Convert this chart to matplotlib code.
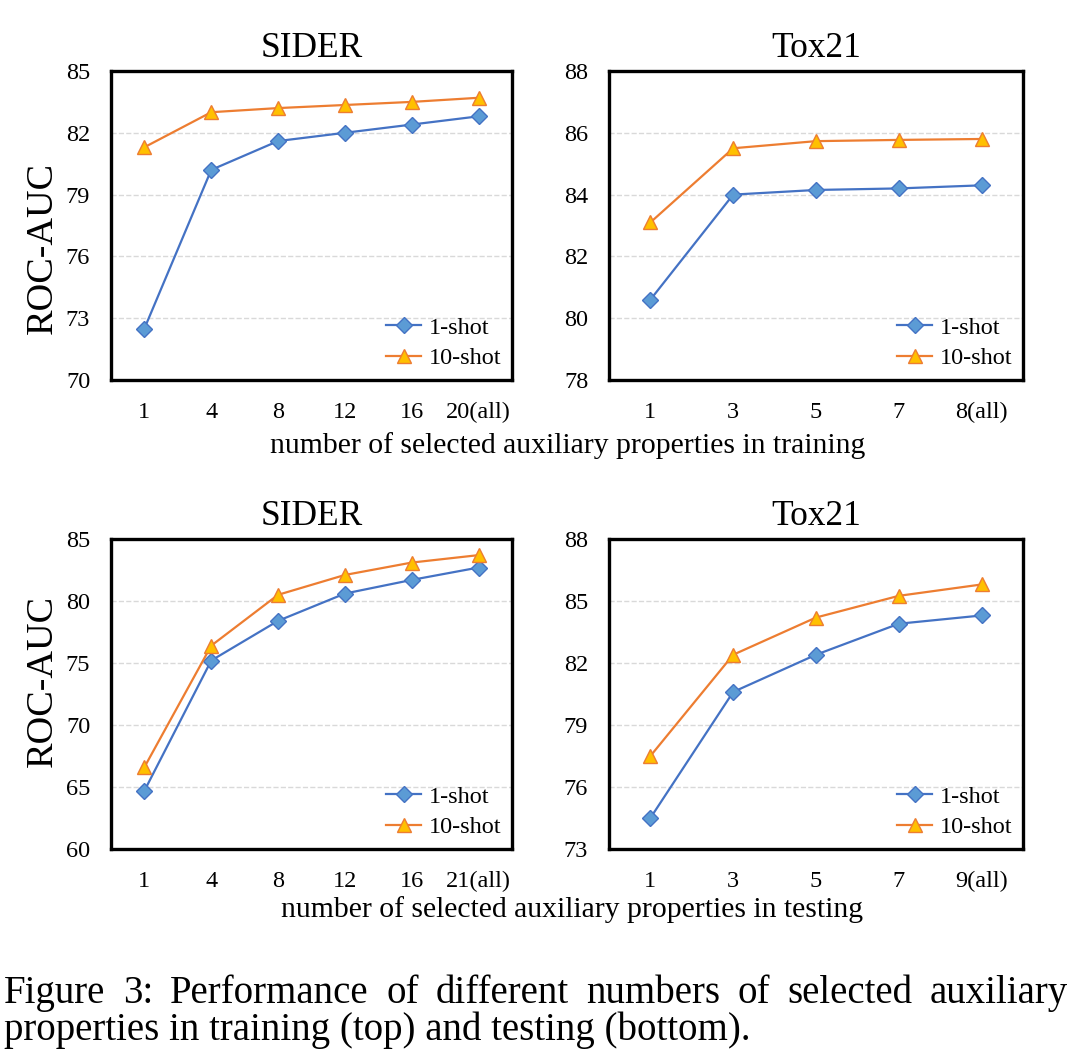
import matplotlib
matplotlib.use("Agg")
import matplotlib.pyplot as plt

plt.rcParams['font.family'] = ['Liberation Serif', 'DejaVu Serif']

# datos
sider_train_x = ["1", "4", "8", "12", "16", "20(all)"]
sider_train_1shot = [72.5, 80.2, 81.6, 82.0, 82.4, 82.8]
sider_train_10shot = [81.3, 83.0, 83.2, 83.35, 83.5, 83.7]

tox_train_x = ["1", "3", "5", "7", "8(all)"]
tox_train_1shot = [80.6, 84.0, 84.15, 84.2, 84.3]
tox_train_10shot = [83.1, 85.5, 85.73, 85.77, 85.8]

sider_test_x = ["1", "4", "8", "12", "16", "21(all)"]
sider_test_1shot = [64.7, 75.2, 78.4, 80.6, 81.7, 82.7]
sider_test_10shot = [66.6, 76.4, 80.5, 82.1, 83.1, 83.7]

tox_test_x = ["1", "3", "5", "7", "9(all)"]
tox_test_1shot = [74.5, 80.6, 82.4, 83.9, 84.3]
tox_test_10shot = [77.5, 82.4, 84.2, 85.25, 85.8]

W, H = 1080, 1062
fig = plt.figure(figsize=(W / 100, H / 100), dpi=100)


def px_box(x0, y0, x1, y1):
    return [x0 / W, 1 - y1 / H, (x1 - x0) / W, (y1 - y0) / H]


def panel(rect, labels, s1, s10, title, yticks):
    ax = fig.add_axes(rect)
    x = list(range(len(labels)))
    ax.plot(x, s1, color="#4472C4", lw=1.6, marker="D", ms=8.5,
            mfc="#5B9BD5", mec="#4472C4", mew=1, label="1-shot", zorder=3)
    ax.plot(x, s10, color="#ED7D31", lw=1.6, marker="^", ms=10.5,
            mfc="#FFC000", mec="#ED7D31", mew=1, label="10-shot", zorder=3)
    ax.set_xlim(-0.5, len(labels) - 0.5)
    ax.set_ylim(yticks[0], yticks[-1])
    ax.set_yticks(yticks)
    ax.set_xticks(x)
    ax.set_xticklabels(labels)
    ax.tick_params(length=0, labelsize=17.5)
    ax.tick_params(axis="y", pad=15)
    ax.tick_params(axis="x", pad=16)
    ax.grid(axis="y", color="#D9D9D9", ls="--", lw=1)
    for sp in ax.spines.values():
        sp.set_linewidth(2.4)
        sp.set_color("black")
    ax.set_title(title, fontsize=25.5, pad=10)
    ax.legend(loc="lower right", frameon=False, fontsize=17.5, handlelength=1.45,
              handletextpad=0.3, labelspacing=0.35, borderaxespad=0.25,
              borderpad=0.2)
    return ax


panel(px_box(111, 71, 512, 380), sider_train_x, sider_train_1shot,
      sider_train_10shot, "SIDER", [70, 73, 76, 79, 82, 85])
panel(px_box(609, 71, 1023, 380), tox_train_x, tox_train_1shot,
      tox_train_10shot, "Tox21", [78, 80, 82, 84, 86, 88])
panel(px_box(111, 539, 512, 849), sider_test_x, sider_test_1shot,
      sider_test_10shot, "SIDER", [60, 65, 70, 75, 80, 85])
panel(px_box(609, 539, 1023, 849), tox_test_x, tox_test_1shot,
      tox_test_10shot, "Tox21", [73, 76, 79, 82, 85, 88])

fig.text(43 / W, 1 - 248 / H, "ROC-AUC", rotation=90, fontsize=27.5,
         ha="center", va="center")
fig.text(43 / W, 1 - 681 / H, "ROC-AUC", rotation=90, fontsize=27.5,
         ha="center", va="center")
fig.text(568 / W, 1 - 453 / H, "number of selected auxiliary properties in training",
         fontsize=21.3, ha="center", va="baseline")
fig.text(572 / W, 1 - 917 / H, "number of selected auxiliary properties in testing",
         fontsize=21.3, ha="center", va="baseline")

# pie de figura, primera linea justificada
linea1 = "Figure 3:  Performance of different numbers of selected auxiliary".split()
renderer = fig.canvas.get_renderer()
textos = [fig.text(0, 1 - 1003 / H, w, fontsize=28, va="baseline") for w in linea1]
anchos = [t.get_window_extent(renderer).width for t in textos]
x_ini, x_fin = 4, 1068
hueco = (x_fin - x_ini - sum(anchos)) / (len(textos) - 1)
xpos = x_ini
for t, a in zip(textos, anchos):
    t.set_x(xpos / W)
    xpos += a + hueco
fig.text(4 / W, 1 - 1040 / H, "properties in training (top) and testing (bottom).",
         fontsize=28, va="baseline")

fig.savefig("out.png", dpi=100, facecolor="white")
